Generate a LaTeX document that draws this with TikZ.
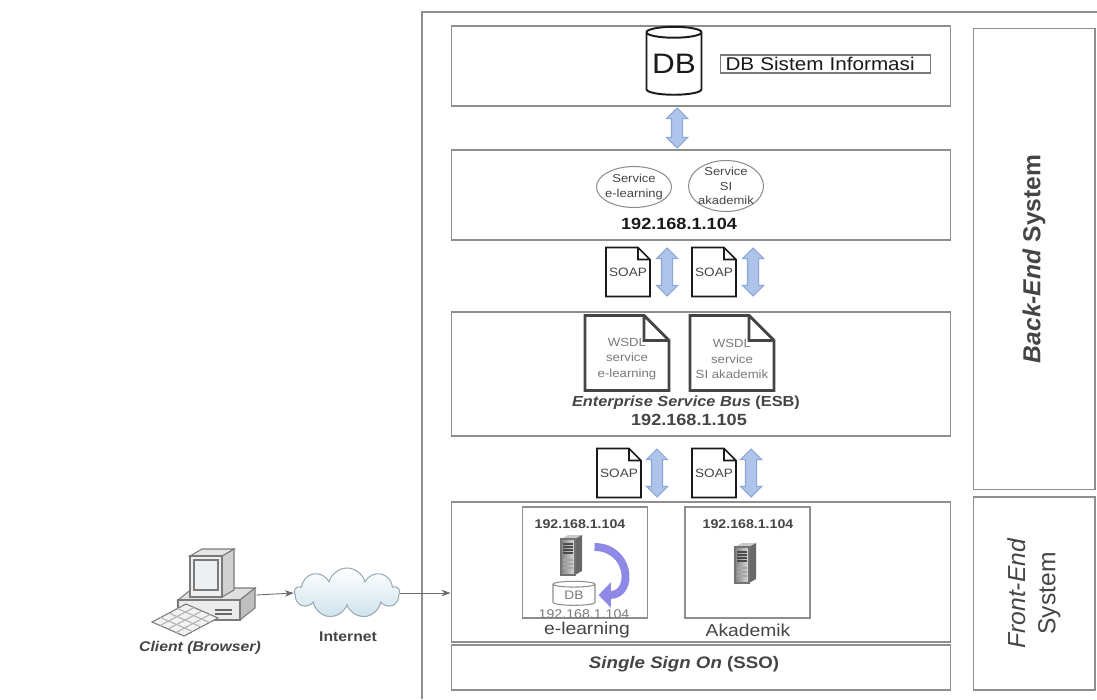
\documentclass[tikz,border=0pt]{standalone}
\usepackage{fontspec}
\setmainfont{Liberation Sans}[FakeStretch=1.12]
\newfontfamily\sidefont{Liberation Sans}
\usetikzlibrary{arrows.meta,positioning,calc,shapes.geometric,shapes.arrows,shapes.symbols}
\definecolor{ink}{HTML}{1A1A1A}
\definecolor{dim}{HTML}{454545}
\definecolor{mute}{HTML}{7A7A7A}
\definecolor{frame}{HTML}{8E8E8E}
\definecolor{flowfill}{HTML}{AFC4EA}
\definecolor{flowline}{HTML}{8CA6D6}
\definecolor{loopfill}{HTML}{8E88E6}
\definecolor{cloudfill}{HTML}{CFE2EC}
\definecolor{cloudline}{HTML}{9AAAB6}
\definecolor{metal}{HTML}{BDBDBD}
\tikzset{
  every picture/.style={line width=0.6pt, text=ink},
  panel/.style={draw=frame, minimum width=10cm, inner sep=0pt},
  side/.style={draw=frame, minimum height=2.44cm, inner sep=0pt, rotate=90, align=center, text=dim, font=\sidefont\fontsize{14}{17}\selectfont},
  service/.style={ellipse, draw=frame, minimum width=1.5cm, inner sep=0pt},
  servicetext/.style={align=center, text=dim, font=\fontsize{6.6}{8.4}\selectfont},
  ipaddr/.style={font=\fontsize{9.2}{11}\selectfont\bfseries},
  soapdoc/.style={minimum width=0.86cm, minimum height=0.96cm, inner sep=0pt, text=dim, font=\fontsize{6.9}{8}\selectfont},
  wsdldoc/.style={minimum width=1.66cm, minimum height=1.48cm, inner sep=0pt},
  wsdltext/.style={yshift=-0.12cm, align=center, text=mute, font=\fontsize{6.7}{9}\selectfont},
  updown/.style={double arrow, shape border rotate=90, draw=flowline, fill=flowfill, inner sep=0.1cm, double arrow head extend=0.1cm, minimum width=0.4cm, minimum height=0.96cm},
  host/.style={draw=frame, minimum width=2.5cm, minimum height=2.22cm, inner sep=0pt},
  hostname/.style={text=dim, font=\fontsize{9.8}{11}\selectfont},
  tower/.style={inner sep=0pt, minimum width=0.44cm, minimum height=0.8cm},
  link/.style={-{Stealth[length=1.8mm, width=1.3mm]}, draw=dim!80, line width=0.5pt},
  loopflow/.style={draw=loopfill, line width=4.5pt, -{Triangle[length=7pt, width=14pt]}},
  caption/.style={text=dim, font=\fontsize{8}{10}\selectfont\bfseries},
  server/.pic={
    \fill[metal!80] (-11,-16) -- (-4,-20) -- (10,-20) -- (3,-16) -- cycle;
    \fill[metal!55!black] (3,-16) -- (10,-20) -- (10,16) -- (3,20) -- cycle;
    \draw[draw=black!55, left color=metal!70!black, right color=metal!50] (-11,-16) rectangle (3,20);
    \foreach \v in {-11,-8,-5,-2} \draw[black!70, line width=0.8pt] (-9,\v) -- (1,\v);
    \foreach \v in {5,9,13} \draw[black!35] (-9,\v) -- (1,\v);
  },
}
\begin{document}
\begin{tikzpicture}[x=0.02cm, y=-0.02cm]
\useasboundingbox (0,0) rectangle (1097,699);
\fill[white] (0,0) rectangle (1097,699);
\draw[draw=frame] (1097,12) -- (422,12) -- (422,699);

\node[side, minimum width=9.22cm] (backend) at (1034,259) {\bfseries\textit{Back-End} System};
\node[side, minimum width=3.86cm] (frontend) at (1034,593.5) {\textit{Front-End}\\System};

\node[panel, minimum height=1.6cm] (dbpanel) at (701,66) {};
\node[panel, minimum height=1.8cm] (svcpanel) at (701,195) {};
\node[panel, minimum height=2.48cm] (esbpanel) at (701,374) {};
\node[panel, minimum height=2.8cm] (fepanel) at (701,572) {};
\node[panel, minimum height=0.9cm] (ssopanel) at (701,667.5) {};

\node[cylinder, shape border rotate=90, aspect=0.25, draw=ink, line width=1.1pt, fill=white, minimum width=1.1cm, minimum height=1.36cm, inner sep=0pt, font=\fontsize{16}{16}\selectfont] (dbmain) at (674,64) {DB};
\node[draw=mute, anchor=west, text width=4cm, inner xsep=0.1cm, inner ysep=0pt, minimum height=0.36cm, font=\fontsize{10.5}{12}\selectfont] (dblabel) at (720,64) {DB Sistem Informasi};
\node[updown, minimum height=0.8cm] (dbflow) at (677,128) {};

\node[service, minimum height=0.82cm, label={[servicetext]center:Service\\e-learning}] (svcelearn) at (634,187) {};
\node[service, minimum height=1.02cm, label={[servicetext]center:Service\\SI\\akademik}] (svcsiak) at (726,186) {};
\node[ipaddr] (svcip) at (679,224) {192.168.1.104};

\node[soapdoc] (soapa) at (628,272) {SOAP};
\node[updown] (flowa) at (667,272) {};
\node[soapdoc] (soapb) at (714,272) {SOAP};
\node[updown] (flowb) at (753,272) {};

\node[wsdldoc, label={[wsdltext]center:WSDL\\service\\e-learning}] (wsdla) at (627,353) {};
\node[wsdldoc, label={[wsdltext]center:WSDL\\service\\SI akademik}] (wsdlb) at (732,353) {};
\node[text=dim, font=\fontsize{8.3}{10}\selectfont\bfseries] (esbname) at (686,403) {\textit{Enterprise Service Bus} (ESB)};
\node[ipaddr, text=dim] (esbip) at (689,420) {192.168.1.105};

\node[soapdoc] (soapc) at (619,473) {SOAP};
\node[updown] (flowc) at (657,473) {};
\node[soapdoc] (soapd) at (714,473) {SOAP};
\node[updown] (flowd) at (751,473) {};

\foreach \d in {soapa,soapb,soapc,soapd}
  \draw[draw=ink, line width=0.9pt] (\d.north west) -- ([xshift=-0.24cm]\d.north east) -- ([yshift=-0.24cm]\d.north east) -- (\d.south east) -- (\d.south west) -- cycle
    ([xshift=-0.24cm]\d.north east) |- ([yshift=-0.24cm]\d.north east);
\foreach \d in {wsdla,wsdlb}
  \draw[draw=dim, line width=1.6pt, line join=miter] (\d.north west) -- ([xshift=-0.5cm]\d.north east) -- ([yshift=-0.5cm]\d.north east) -- (\d.south east) -- (\d.south west) -- cycle
    ([xshift=-0.5cm]\d.north east) |- ([yshift=-0.5cm]\d.north east);

\node[host] (elearn) at (585,562.5) {};
\node[host] (akad) at (747.5,562.5) {};
\node[ipaddr, text=dim, font=\fontsize{7.2}{8}\selectfont\bfseries] (elearnip) at (580,524) {192.168.1.104};
\node[ipaddr, text=dim, font=\fontsize{7.2}{8}\selectfont\bfseries] (akadip) at (748,524) {192.168.1.104};
\node[tower] (srva) at (572,555) {};
\pic at (srva) {server};
\node[tower] (srvb) at (746,563) {};
\pic at (srvb) {server};
\node[cylinder, shape border rotate=90, aspect=0.3, draw=frame, fill=white, minimum width=0.84cm, minimum height=0.48cm, inner sep=0pt, text=mute, font=\fontsize{7}{8}\selectfont] (elearndb) at (574,595) {DB};
\draw[loopflow] ([xshift=0.22cm, yshift=0.16cm]srva.east) .. controls +(0.72cm,0) and +(0.72cm,0) .. ([xshift=0.06cm]elearndb.east);
\node[text=mute, font=\fontsize{7.2}{8}\selectfont] (dbip) at (584,614) {192.168.1.104};
\node[hostname] (elearnname) at (587,630) {e-learning};
\node[hostname] (akadname) at (748,630) {Akademik};

\node[text=dim, font=\fontsize{9.5}{11}\selectfont\bfseries] (ssoname) at (684,664) {\textit{Single Sign On} (SSO)};

% client workstation
\draw[draw=mute, fill=black!12] (178,600) -- (193,588) -- (255,588) -- (240,600) -- cycle;
\draw[draw=mute, fill=black!25] (240,600) -- (255,588) -- (255,608) -- (240,620) -- cycle;
\draw[draw=mute, fill=black!8] (178,600) rectangle (240,620);
\draw[draw=black!60] (215,610) -- (232,610) (215,614) -- (232,614);
\draw[draw=mute, fill=black!18] (222,556) -- (234,549) -- (234,590) -- (222,597) -- cycle;
\draw[draw=mute, fill=black!10] (190,556) -- (202,549) -- (234,549) -- (222,556) -- cycle;
\draw[draw=mute, fill=black!6] (190,556) rectangle (222,597);
\draw[draw=mute, fill=cloudfill!80!black!20] (194,560) rectangle (218,590);
\draw[draw=mute, fill=black!5] (152,622) -- (186,604) -- (218,618) -- (184,636) -- cycle;
\foreach \t in {0.25,0.5,0.75} {
  \draw[black!30] ($(152,622)!\t!(186,604)$) -- ($(184,636)!\t!(218,618)$);
  \draw[black!30] ($(152,622)!\t!(184,636)$) -- ($(186,604)!\t!(218,618)$);
}
\node[inner sep=0pt, minimum width=2.08cm, minimum height=1.7cm] (client) at (204,595) {};
\node[caption, font=\fontsize{8}{10}\selectfont\bfseries\itshape] (clientname) at (200,648) {Client (Browser)};

\node[cloud, cloud puffs=9, aspect=2.1, draw=cloudline, top color=white, bottom color=cloudfill, minimum width=2.1cm, minimum height=1.0cm, inner sep=0pt] (internet) at (347,593) {};
\node[caption] (internetname) at (348,637) {Internet};

\draw[link] (client.east) -- (internet.west);
\draw[link] (internet.east) -- (internet.east -| fepanel.west);
\end{tikzpicture}
\end{document}
